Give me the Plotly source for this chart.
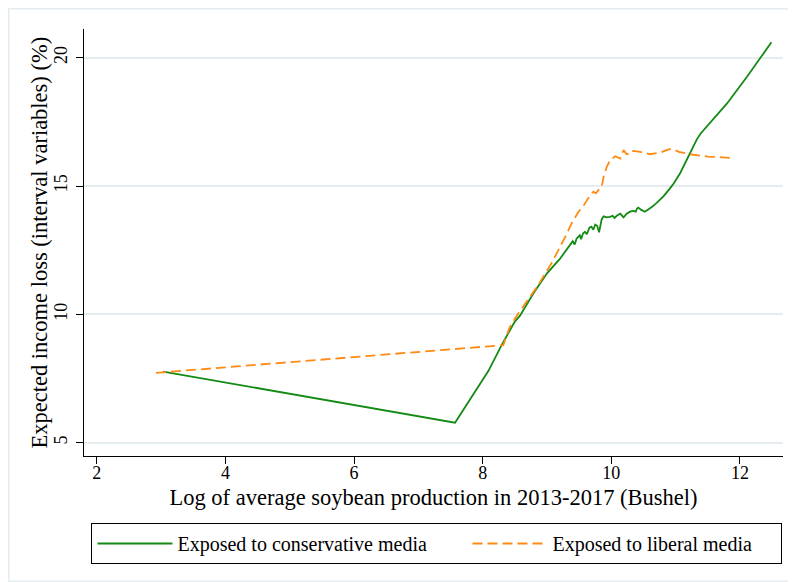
import plotly.graph_objects as go

# Conservative media (green, solid)
cons_x = [3.03, 7.57, 8.09, 8.29, 8.50, 8.58, 8.79, 9.00, 9.20, 9.36, 9.40, 9.43, 9.46, 9.51,
          9.53, 9.56, 9.59, 9.62, 9.66, 9.69, 9.72, 9.75, 9.78, 9.81, 9.85, 9.88, 9.93, 9.98,
          10.02, 10.05, 10.09, 10.14, 10.17, 10.19, 10.24, 10.29, 10.34, 10.38, 10.40, 10.42,
          10.46, 10.52, 10.58, 10.65, 10.73, 10.81, 10.91, 10.97, 11.07, 11.17, 11.28, 11.33,
          11.39, 11.46, 11.54, 11.65, 11.80, 12.11, 12.49]
cons_y = [7.77, 5.78, 7.80, 8.78, 9.72, 9.95, 10.82, 11.60, 12.16, 12.70, 12.85, 12.72, 12.95, 13.08,
          12.93, 13.15, 13.22, 13.12, 13.38, 13.42, 13.30, 13.50, 13.45, 13.20, 13.70, 13.82, 13.78, 13.80,
          13.84, 13.76, 13.85, 13.92, 13.85, 13.78, 13.92, 14.00, 14.03, 14.00, 14.12, 14.16,
          14.08, 14.00, 14.10, 14.22, 14.40, 14.60, 14.90, 15.10, 15.50, 16.00, 16.55, 16.82,
          17.05, 17.25, 17.46, 17.80, 18.22, 19.26, 20.60]

# Liberal media (orange, dashed)
lib_x = [2.92, 8.32, 8.42, 8.53, 8.65, 8.86, 9.07, 9.15, 9.28, 9.38, 9.49, 9.56, 9.64, 9.72,
         9.76, 9.80, 9.85, 9.88, 9.93, 9.98, 10.06, 10.14, 10.19, 10.24, 10.32, 10.34, 10.45,
         10.60, 10.76, 10.89, 10.95, 11.05, 11.22, 11.50, 11.85]
lib_y = [7.72, 8.80, 9.50, 9.95, 10.38, 11.13, 11.99, 12.36, 13.00, 13.53, 14.00, 14.20, 14.52, 14.78,
         14.72, 14.84, 14.97, 15.36, 15.75, 16.00, 16.16, 16.07, 16.40, 16.24, 16.27, 16.37, 16.33,
         16.24, 16.30, 16.43, 16.45, 16.33, 16.24, 16.15, 16.10]

x_ticks = [2, 4, 6, 8, 10, 12]
y_ticks = [5, 10, 15, 20]

FONT = "Liberation Serif"
GREEN = "#138a13"
ORANGE = "#ff8a14"

W, H = 788, 574
L, R, T, B = 76, 13, 21, 126
PW, PH = W - L - R, H - T - B

fig = go.Figure()
fig.add_trace(go.Scatter(x=cons_x, y=cons_y, mode="lines", name="Exposed to conservative media",
                         legendwidth=285,
                         line=dict(color=GREEN, width=1.8)))
fig.add_trace(go.Scatter(x=lib_x, y=lib_y, mode="lines", name="Exposed to liberal media",
                         legendwidth=224,
                         line=dict(color=ORANGE, width=1.8, dash="10px,5px")))

fig.update_layout(
    width=W, height=H,
    margin=dict(l=L, r=R, t=T, b=B),
    paper_bgcolor="white", plot_bgcolor="white",
    font=dict(family=FONT, color="black", size=18),
    showlegend=True,
    legend=dict(orientation="h", xref="container", yref="container",
                x=0.5444, xanchor="center", y=0.1028, yanchor="top",
                itemwidth=75, font=dict(family=FONT, size=20),
                bordercolor="black", borderwidth=1, bgcolor="white",
                traceorder="normal"),
    xaxis=dict(range=[1.80, 12.67], tickvals=x_ticks, showgrid=False, zeroline=False,
               showline=True, linecolor="black", linewidth=1, automargin=False,
               ticks="outside", ticklen=7, tickcolor="black", ticklabelstandoff=-7,
               tickfont=dict(size=18),
               title=dict(text="Log of average soybean production in 2013-2017 (Bushel)",
                          font=dict(size=22.5), standoff=7)),
    yaxis=dict(range=[4.48, 21.12], tickvals=y_ticks, showgrid=True, gridcolor="#e6edf0",
               gridwidth=1.5, zeroline=False, automargin=False,
               showline=True, linecolor="black", linewidth=1,
               ticks="outside", ticklen=7, tickcolor="black", tickangle=-90,
               ticklabelstandoff=2, tickfont=dict(size=18)),
    annotations=[dict(text="Expected income loss (interval variables) (%)",
                      xref="paper", yref="paper", x=-45 / PW, y=0.5,
                      xanchor="center", yanchor="middle", textangle=-90,
                      showarrow=False, font=dict(family=FONT, size=22.5, color="black"))],
    shapes=[dict(type="rect", xref="paper", yref="paper",
                 x0=(0.75 - L) / PW, x1=(W - 0.75 - L) / PW,
                 y0=(PH + T - (H - 0.75)) / PH, y1=(PH + T - 0.75) / PH,
                 line=dict(color="#e4ecef", width=1.5), fillcolor="rgba(0,0,0,0)", layer="below")],
)

fig.write_html("out.html")
